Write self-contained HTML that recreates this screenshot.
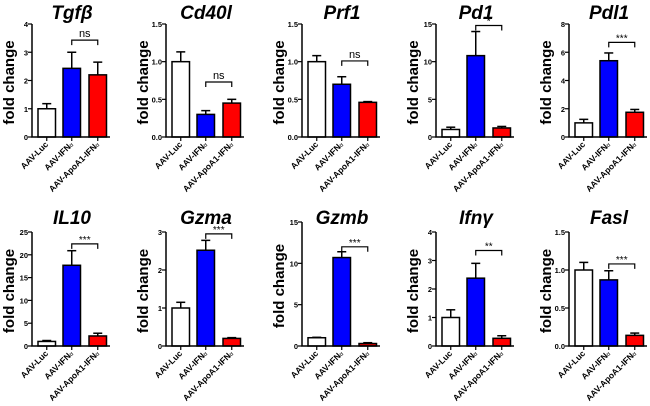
<!DOCTYPE html>
<html><head><meta charset="utf-8"><style>
html,body{margin:0;padding:0;background:#fff;width:650px;height:406px;overflow:hidden}
svg{display:block;font-family:"Liberation Sans",Arial,sans-serif}
</style></head><body>
<svg id="c" width="650" height="406" viewBox="0 0 650 406" xmlns="http://www.w3.org/2000/svg"></svg>
<script>
const titles = ["Tgfβ","Cd40l","Prf1","Pd1","Pdl1","IL10","Gzma","Gzmb","Ifnγ","Fasl"];
const yMax = [4,1.5,1.5,15,8,25,3,15,4,1.5];
const tickStep = [1,0.5,0.5,5,2,5,1,5,1,0.5];
const tickDecimals = [0,1,1,0,0,0,0,0,0,1];
const lucMeans = [1,1,1,1,1,1,1,1,1,1];
const lucErr = [1.18,1.13,1.08,1.3,1.25,1.2,1.15,1.05,1.27,1.1];
const ifnMeans = [2.43,0.3,0.7,10.8,5.4,17.7,2.52,10.7,2.38,0.87];
const ifnErr = [3.0,0.35,0.8,14,5.95,20.9,2.78,11.4,2.9,0.99];
const apoMeans = [2.2,0.45,0.46,1.2,1.75,2.2,0.2,0.3,0.27,0.14];
const apoErr = [2.65,0.5,0.47,1.4,1.95,2.8,0.22,0.4,0.36,0.17];
const sigY = [3.43,0.73,1.01,14.8,6.7,22.4,2.95,12,3.35,1.08];
const sigLabel = ["ns","ns","ns","*","***","***","***","***","**","***"];
const groups = ["AAV-Luc","AAV-IFNα","AAV-ApoA1-IFNα"];

const NS="http://www.w3.org/2000/svg";
const svg=document.getElementById('c');
function mk(tag,attrs,parent){const e=document.createElementNS(NS,tag);for(const k in attrs)e.setAttribute(k,attrs[k]);(parent||svg).appendChild(e);return e;}
const axX=[32,166,302,436,569];
const colors=["#ffffff","#0000ff","#ff0000"];
const barOff=[6,31,57], barW=17.5;

titles.forEach((t,i)=>{
  const row=i<5?0:1, col=i%5;
  const x0=axX[col];
  const y0=row?346:137;
  const yTop=row?(i===7?222:232):24;
  const ys=v=>y0-(v/yMax[i])*(y0-yTop);
  const g=mk('g',{});
  
  
  const tt=mk('text',{x:x0+40,y:row?224:19,'text-anchor':'middle','font-size':19,'font-weight':'bold','font-style':'italic'},g);
  tt.textContent=t;
  
  
  const yl=mk('text',{transform:`translate(${x0-18},${(y0+yTop)/2+2}) rotate(-90)`,'text-anchor':'middle','font-size':15,'font-weight':'bold'},g);
  yl.textContent='fold change';
  
  
  const means=[lucMeans[i],ifnMeans[i],apoMeans[i]], errs=[lucErr[i],ifnErr[i],apoErr[i]];
  means.forEach((m,k)=>{
    const bx=x0+barOff[k], cx=bx+barW/2;
    const el=mk('line',{x1:cx,x2:cx,y1:ys(m),y2:ys(errs[k]),stroke:'#000','stroke-width':1.5},g);
    
    
    mk('line',{x1:cx-4.5,x2:cx+4.5,y1:ys(errs[k]),y2:ys(errs[k]),stroke:'#000','stroke-width':1.5},g);
    const r=mk('rect',{x:bx,y:ys(m),width:barW,height:Math.max(0,y0-ys(m)),fill:colors[k],stroke:'#000','stroke-width':1.5},g);
    
    
    mk('line',{x1:cx,x2:cx,y1:y0,y2:y0+4,stroke:'#000','stroke-width':1.2},g);
    const lb=mk('text',{transform:`translate(${cx+2},${y0+8}) rotate(-45)`,'text-anchor':'end','font-size':8.5,'font-weight':'bold'},g);
    
    
    if(k===0) lb.textContent=groups[0];
    else { lb.textContent=groups[k].slice(0,-1); const s=mk('tspan',{'font-size':6,'font-weight':'normal'},lb); s.textContent='α'; }
  });
  const ax=mk('path',{d:`M${x0},${yTop} V${y0} H${x0+78}`,fill:'none',stroke:'#000','stroke-width':1.5},g);
  
  
  for(let v=0;v<=yMax[i]+1e-9;v+=tickStep[i]){
    mk('line',{x1:x0-4,x2:x0,y1:ys(v),y2:ys(v),stroke:'#000','stroke-width':1.2},g);
    const tl=mk('text',{x:x0-4,y:ys(v)+3,'text-anchor':'end','font-size':7.5,'font-weight':'bold'},g);
    tl.textContent=v.toFixed(tickDecimals[i]);
    
    
  }
  const b1=x0+barOff[1]+barW/2, b2=x0+barOff[2]+barW/2, sy=ys(sigY[i]);
  const br=mk('path',{d:`M${b1},${sy+5} V${sy} H${b2} V${sy+5}`,fill:'none',stroke:'#000','stroke-width':1.2},g);
  
  
  const sl=mk('text',{x:(b1+b2)/2,y:sigLabel[i]==='ns'?sy-3:sy-1,'text-anchor':'middle','font-size':sigLabel[i]==='ns'?11:10},g);
  sl.textContent=sigLabel[i];
  
  
});
</script>
</body></html>
